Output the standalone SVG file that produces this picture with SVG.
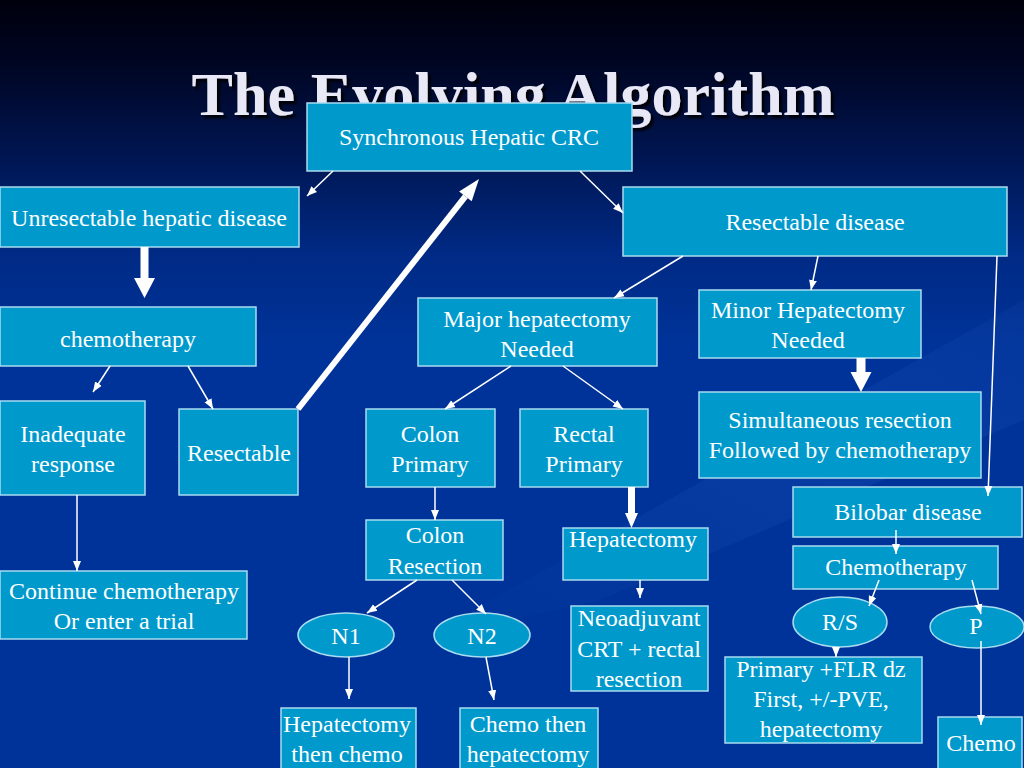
<svg xmlns="http://www.w3.org/2000/svg" width="1024" height="768" viewBox="0 0 1024 768">
<defs>
<linearGradient id="bg" x1="0" y1="0" x2="0" y2="1">
<stop offset="0" stop-color="#00000c"/>
<stop offset="0.08" stop-color="#000522"/>
<stop offset="0.2" stop-color="#001550"/>
<stop offset="0.33" stop-color="#002a85"/>
<stop offset="0.45" stop-color="#003399"/>
<stop offset="1" stop-color="#003399"/>
</linearGradient>
<linearGradient id="sheen" x1="0" y1="1" x2="1" y2="0">
<stop offset="0" stop-color="#3366cc" stop-opacity="0"/>
<stop offset="0.6" stop-color="#3366cc" stop-opacity="0.18"/>
<stop offset="1" stop-color="#3366cc" stop-opacity="0.08"/>
</linearGradient>
<marker id="ah" markerUnits="userSpaceOnUse" markerWidth="10" markerHeight="10" viewBox="0 0 10 10" refX="10" refY="5" orient="auto">
<path d="M0,1 L10,5 L0,9 Z" fill="#ffffff"/>
</marker>
<filter id="sh" x="-5%" y="-20%" width="110%" height="140%">
<feDropShadow dx="3" dy="3" stdDeviation="1" flood-color="#000000" flood-opacity="0.9"/>
</filter>
</defs>
<style>
.box{fill:#0099cc;stroke:#a8dcf0;stroke-width:1.5}
.t{font-family:"Liberation Serif","Times New Roman",serif;font-size:24px;fill:#ffffff;text-anchor:middle}
.c{stroke:#ffffff;stroke-width:1.5;fill:none;marker-end:url(#ah)}
.blk{fill:#ffffff}
</style>
<rect width="1024" height="768" fill="url(#bg)"/>
<path d="M420,640 L1024,300 L1024,420 L600,600 Z" fill="url(#sheen)"/>
<text x="513" y="115" filter="url(#sh)" font-family="'Liberation Serif','Times New Roman',serif" font-size="62" font-weight="bold" fill="#e8e8f6" text-anchor="middle" textLength="643">The Evolving Algorithm</text>

<g id="n-sync"><rect class="box" x="307" y="103" width="325" height="68"/><text class="t" x="469" y="145">Synchronous Hepatic CRC</text></g>
<g id="n-unres"><rect class="box" x="0" y="187" width="299" height="60"/><text class="t" x="149" y="226">Unresectable hepatic disease</text></g>
<g id="n-resdis"><rect class="box" x="623" y="187" width="384" height="69"/><text class="t" x="815" y="230">Resectable disease</text></g>
<g id="n-chemo1"><rect class="box" x="0" y="307" width="256" height="59"/><text class="t" x="128" y="347">chemotherapy</text></g>
<g id="n-inad"><rect class="box" x="0" y="401" width="145" height="94"/><text class="t" x="73" y="442">Inadequate</text><text class="t" x="73" y="472">response</text></g>
<g id="n-res"><rect class="box" x="179" y="409" width="119" height="86"/><text class="t" x="239" y="461">Resectable</text></g>
<g id="n-major"><rect class="box" x="418" y="298" width="239" height="68"/><text class="t" x="537" y="327">Major hepatectomy</text><text class="t" x="537" y="357">Needed</text></g>
<g id="n-minor"><rect class="box" x="699" y="290" width="222" height="68"/><text class="t" x="808" y="318">Minor Hepatectomy</text><text class="t" x="808" y="348">Needed</text></g>
<g id="n-simul"><rect class="box" x="699" y="392" width="282" height="86"/><text class="t" x="840" y="428">Simultaneous resection</text><text class="t" x="840" y="458">Followed by chemotherapy</text></g>
<g id="n-colon"><rect class="box" x="366" y="409" width="129" height="78"/><text class="t" x="430" y="442">Colon</text><text class="t" x="430" y="472">Primary</text></g>
<g id="n-rectal"><rect class="box" x="520" y="409" width="128" height="78"/><text class="t" x="584" y="442">Rectal</text><text class="t" x="584" y="472">Primary</text></g>
<g id="n-colres"><rect class="box" x="366" y="520" width="137" height="60"/><text class="t" x="435" y="543">Colon</text><text class="t" x="435" y="574">Resection</text></g>
<g id="n-hep"><rect class="box" x="563" y="528" width="145" height="52"/><text class="t" x="633" y="547">Hepatectomy</text></g>
<g id="n-cont"><rect class="box" x="0" y="571" width="247" height="68"/><text class="t" x="124" y="599">Continue chemotherapy</text><text class="t" x="124" y="629">Or enter a trial</text></g>
<g id="n-n1"><ellipse class="box" cx="346" cy="635" rx="48" ry="22"/><text class="t" x="346" y="644">N1</text></g>
<g id="n-n2"><ellipse class="box" cx="482" cy="635" rx="48" ry="22"/><text class="t" x="482" y="644">N2</text></g>
<g id="n-neo"><rect class="box" x="571" y="606" width="137" height="85"/><text class="t" x="639" y="626">Neoadjuvant</text><text class="t" x="639" y="657">CRT + rectal</text><text class="t" x="639" y="687">resection</text></g>
<g id="n-hepthen"><rect class="box" x="281" y="708" width="135" height="62"/><text class="t" x="347" y="732">Hepatectomy</text><text class="t" x="347" y="762">then chemo</text></g>
<g id="n-chemothen"><rect class="box" x="460" y="708" width="138" height="62"/><text class="t" x="528" y="732">Chemo then</text><text class="t" x="528" y="762">hepatectomy</text></g>
<g id="n-bilobar"><rect class="box" x="793" y="487" width="229" height="50"/><text class="t" x="908" y="520">Bilobar disease</text></g>
<g id="n-chemo2"><rect class="box" x="793" y="546" width="205" height="43"/><text class="t" x="896" y="575">Chemotherapy</text></g>
<g id="n-rs"><ellipse class="box" cx="840" cy="622" rx="47" ry="25"/><text class="t" x="840" y="630">R/S</text></g>
<g id="n-p"><ellipse class="box" cx="977" cy="627" rx="47" ry="21"/><text class="t" x="976" y="634">P</text></g>
<g id="n-primary"><rect class="box" x="725" y="657" width="197" height="86"/><text class="t" x="821" y="677">Primary +FLR dz</text><text class="t" x="821" y="707">First, +/-PVE,</text><text class="t" x="821" y="737">hepatectomy</text></g>
<g id="n-chemo3"><rect class="box" x="938" y="717" width="84" height="53"/><text class="t" x="981" y="751">Chemo</text></g>

<g id="connectors">
<line class="c" x1="333" y1="171" x2="307" y2="196"/>
<line class="c" x1="580" y1="171" x2="623" y2="213"/>
<line class="c" x1="683" y1="256" x2="614" y2="298"/>
<line class="c" x1="818" y1="256" x2="811" y2="290"/>
<line class="c" x1="997" y1="256" x2="988" y2="496"/>
<polygon class="blk" points="140.5,247 148.5,247 148.5,278 155,278 144.5,298 134,278 140.5,278"/>
<line class="c" x1="110" y1="366" x2="93" y2="392"/>
<line class="c" x1="188" y1="366" x2="213" y2="409"/>
<line x1="298" y1="409" x2="465.4" y2="196.3" stroke="#ffffff" stroke-width="6"/>
<polygon class="blk" points="479,179 471.7,201.2 459.1,191.4"/>
<line class="c" x1="511" y1="366" x2="445" y2="409"/>
<line class="c" x1="563" y1="366" x2="623" y2="409"/>
<polygon class="blk" points="856.5,358 865.5,358 865.5,372 871.5,372 861,392 850.5,372 856.5,372"/>
<line class="c" x1="435" y1="487" x2="435" y2="520"/>
<polygon class="blk" points="628,487 635,487 635,513 638,513 631.5,528 625,513 628,513"/>
<line class="c" x1="417" y1="580" x2="367" y2="613"/>
<line class="c" x1="452" y1="580" x2="486" y2="614"/>
<line class="c" x1="349" y1="657" x2="349" y2="699"/>
<line class="c" x1="486" y1="657" x2="494" y2="700"/>
<line class="c" x1="640" y1="580" x2="640" y2="598"/>
<line class="c" x1="77" y1="495" x2="77" y2="571"/>
<line class="c" x1="896" y1="530" x2="896" y2="554"/>
<line class="c" x1="879" y1="580" x2="869" y2="606"/>
<line class="c" x1="972" y1="580" x2="981" y2="614"/>
<line class="c" x1="836" y1="647" x2="836" y2="657"/>
<line class="c" x1="981" y1="641" x2="981" y2="725"/>
</g>
</svg>
